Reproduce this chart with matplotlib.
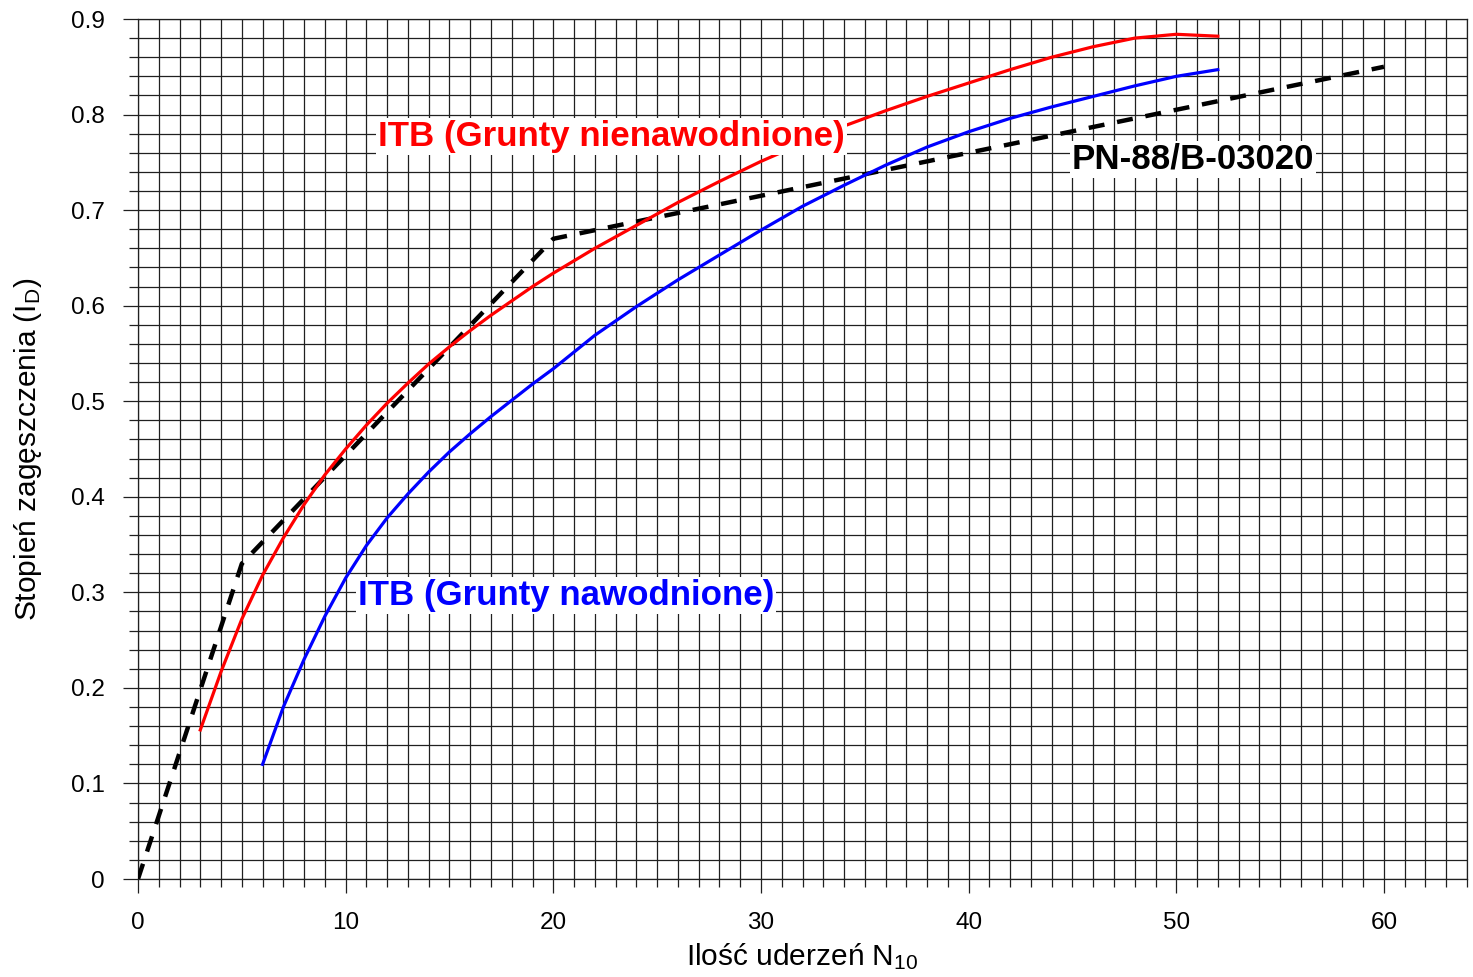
import matplotlib
matplotlib.use("Agg")
import matplotlib.pyplot as plt
from matplotlib.ticker import MultipleLocator

plt.rcParams['font.family'] = ['Liberation Sans', 'DejaVu Sans']
plt.rcParams['mathtext.default'] = 'regular'

# PN-88/B-03020 (dashed)
pn_x = [0, 5, 20, 60]
pn_y = [0.0, 0.33, 0.67, 0.85]

# ITB - grunty nienawodnione (red)
itb_dry_x = [3, 4, 5, 6, 7, 8, 9, 10, 11, 12, 13, 14, 15, 16, 17, 18, 19, 20,
             22, 24, 26, 28, 30, 32, 34, 36, 38, 40, 42, 44, 46, 48, 50, 52]
itb_dry_y = [0.156, 0.217, 0.272, 0.318, 0.357, 0.392, 0.423, 0.450, 0.475, 0.498,
             0.519, 0.539, 0.557, 0.574, 0.590, 0.605, 0.620, 0.634,
             0.660, 0.684, 0.708, 0.730, 0.751, 0.770, 0.788, 0.804, 0.819, 0.833,
             0.847, 0.860, 0.871, 0.880, 0.884, 0.882]

# ITB - grunty nawodnione (blue)
itb_wet_x = [6, 7, 8, 9, 10, 11, 12, 13, 14, 15, 16, 17, 18, 19, 20,
             22, 24, 26, 28, 30, 32, 34, 36, 38, 40, 42, 44, 46, 48, 50, 52]
itb_wet_y = [0.120, 0.180, 0.230, 0.275, 0.315, 0.349, 0.378, 0.403, 0.426, 0.447,
             0.466, 0.484, 0.501, 0.518, 0.534,
             0.569, 0.599, 0.627, 0.653, 0.679, 0.704, 0.726, 0.747, 0.766, 0.782,
             0.796, 0.808, 0.819, 0.830, 0.840, 0.847]

fig = plt.figure(figsize=(14.73, 9.77), dpi=100)
ax = fig.add_axes([138/1473, 1 - 879/977, (1467 - 138)/1473, (879 - 19)/977])

ax.plot(pn_x, pn_y, color='black', lw=3.2, linestyle=(0, (3.6, 2.9)),
        dash_capstyle='butt', zorder=3)
ax.plot(itb_dry_x, itb_dry_y, color='#ff0000', lw=2.3, zorder=3)
ax.plot(itb_wet_x, itb_wet_y, color='#0000ff', lw=2.3, zorder=3)

ax.set_xlim(0, 64)
ax.set_ylim(0, 0.9)
ax.xaxis.set_major_locator(MultipleLocator(10))
ax.xaxis.set_minor_locator(MultipleLocator(1))
ax.yaxis.set_major_locator(MultipleLocator(0.1))
ax.yaxis.set_minor_locator(MultipleLocator(0.02))
ax.yaxis.set_major_formatter(plt.FuncFormatter(lambda v, p: '0' if abs(v) < 1e-9 else f'{v:.1f}'))

ax.grid(which='both', color='#202020', lw=0.9)
for s in ax.spines.values():
    s.set_color('#202020')
    s.set_linewidth(0.9)
ax.tick_params(axis='x', which='major', length=10, width=0.9, color='#202020',
               labelsize=17.5, pad=14)
ax.tick_params(axis='x', which='minor', length=5.8, width=0.9, color='#202020')
ax.tick_params(axis='y', which='major', length=10.8, width=0.9, color='#202020',
               labelsize=17.5, pad=13)
ax.tick_params(axis='y', which='minor', length=6.5, width=0.9, color='#202020')

ax.set_xlabel('Ilość uderzeń N$_{10}$', fontsize=21.5, va='center')
ax.xaxis.set_label_coords(0.5, (879 - 957) / 860)
ax.set_ylabel('Stopień zagęszczenia (I$_D$)', fontsize=21.5, va='center')
ax.yaxis.set_label_coords((28 - 138) / 1329, 0.5)

box = dict(facecolor='white', edgecolor='none', pad=1.5)
ax.text(11.56, 0.777, 'ITB (Grunty nienawodnione)', color='#ff0000',
        fontsize=25.1, fontweight='bold', va='center', ha='left', bbox=box, zorder=4)
ax.text(10.59, 0.297, 'ITB (Grunty nawodnione)', color='#0000ff',
        fontsize=25.1, fontweight='bold', va='center', ha='left', bbox=box, zorder=4)
ax.text(44.97, 0.753, 'PN-88/B-03020', color='black',
        fontsize=25.1, fontweight='bold', va='center', ha='left', bbox=box, zorder=4)

fig.savefig('out.png', dpi=100)
